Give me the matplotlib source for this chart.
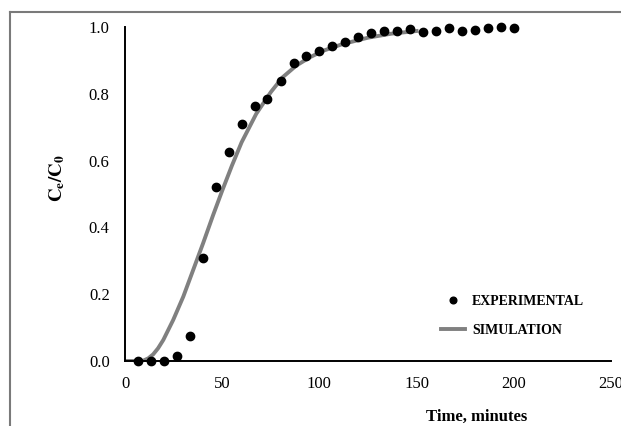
import matplotlib
matplotlib.use("Agg")
import matplotlib.pyplot as plt
from matplotlib.lines import Line2D

# experimental points (every 400 s)
exp_t = [6.7, 13.3, 20.0, 26.7, 33.3, 40.0, 46.7, 53.3, 60.0, 66.7,
         73.3, 80.0, 86.7, 93.3, 100.0, 106.7, 113.3, 120.0, 126.7, 133.3,
         140.0, 146.7, 153.3, 160.0, 166.7, 173.3, 180.0, 186.7, 193.3, 200.0]
exp_c = [0.0, 0.0, 0.0, 0.016, 0.076, 0.308, 0.522, 0.627, 0.711, 0.763,
         0.784, 0.837, 0.891, 0.912, 0.928, 0.944, 0.954, 0.969, 0.983, 0.988,
         0.988, 0.994, 0.986, 0.989, 0.997, 0.989, 0.992, 0.997, 1.0, 0.996]

# simulated breakthrough curve
sim_t = [0, 9, 12, 14.5, 17, 19.7, 24.8, 30.0, 35.1, 40.2, 45.4, 50.0, 55.0, 60.0,
         67.5, 75.0, 81.0, 88.0, 95.0, 102.0, 112.0, 125.0, 137.0, 150.0]
sim_c = [0.0, 0.0, 0.008, 0.02, 0.038, 0.063, 0.123, 0.193, 0.273, 0.353, 0.438,
         0.51, 0.585, 0.655, 0.74, 0.805, 0.849, 0.884, 0.909, 0.929, 0.949,
         0.968, 0.98, 0.988]

x_ticks = [0, 50, 100, 150, 200, 250]
y_ticks = [0.0, 0.2, 0.4, 0.6, 0.8, 1.0]

plt.rcParams["font.family"] = ["Liberation Serif", "DejaVu Serif"]
plt.rcParams["mathtext.fontset"] = "stix"

W, H = 621, 426
fig = plt.figure(figsize=(W / 100, H / 100), dpi=100)
ax = fig.add_axes([125 / W, 1 - 361 / H, (611 - 125) / W, (361 - 27) / H])

ax.plot(sim_t, sim_c, color="#808080", lw=2.8, label="SIMULATION", zorder=2)
ax.plot(exp_t, exp_c, "o", color="black", ms=6, label="EXPERIMENTAL",
        clip_on=False, zorder=3)

ax.set_xlim(0, 250)
ax.set_ylim(0, 1.0)
ax.set_xticks(x_ticks)
ax.set_yticks(y_ticks)
ax.set_yticklabels([f"{v:.1f}" for v in y_ticks])
ax.tick_params(length=0, labelsize=12, pad=11)

for s in ["top", "right"]:
    ax.spines[s].set_visible(False)
for s in ["left", "bottom"]:
    ax.spines[s].set_linewidth(1.4)

ax.set_xlabel("Time, minutes", fontsize=12, fontweight="bold")
ax.xaxis.set_label_coords((477 - 125) / 486, (361 - 417) / 334)
ax.xaxis.label.set_va("center")
ax.set_ylabel(r"$\mathbf{C_e/C_0}$", fontsize=13.5)
ax.yaxis.set_label_coords((57 - 125) / 486, (361 - 178) / 334)
ax.yaxis.label.set_va("center")

handles, labels = ax.get_legend_handles_labels()
leg = ax.legend(handles[::-1], labels[::-1], loc="upper left",
                bbox_to_anchor=((441 - 125) / 486, (361 - 295) / 334),
                frameon=False, borderaxespad=0, borderpad=0,
                handlelength=1.75, handletextpad=0.5, labelspacing=1.15,
                markerscale=0.8, prop={"size": 10, "weight": "bold"})

# outer border of the original figure (cropped at right and bottom)
fig.add_artist(Line2D([10 / W, 10 / W], [0, 1 - 12 / H], color="#7a7a7a", lw=1.5,
                      transform=fig.transFigure))
fig.add_artist(Line2D([10 / W, 1], [1 - 12 / H, 1 - 12 / H], color="#7a7a7a", lw=1.5,
                      transform=fig.transFigure))

fig.savefig("out.png", dpi=100)
